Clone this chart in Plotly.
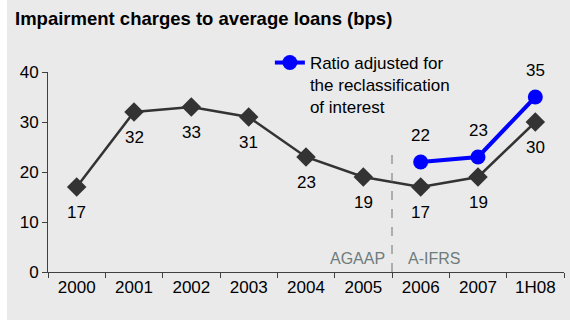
import plotly.graph_objects as go

categories = ["2000", "2001", "2002", "2003", "2004", "2005", "2006", "2007", "1H08"]
reported = [17, 32, 33, 31, 23, 19, 17, 19, 30]
adj_categories = ["2006", "2007", "1H08"]
adjusted = [22, 23, 35]
legend_name = "Ratio adjusted for<br>the reclassification<br>of interest"
title_text = "Impairment charges to average loans (bps)"

FONT = "Liberation Sans, Arial, sans-serif"
BG = "#EAEAEA"
DARK = "#333333"
BLUE = "#0000FF"
GREY_TXT = "#6E7C7C"

fig = go.Figure()
fig.add_trace(go.Scatter(
    x=categories, y=reported, mode="lines+markers",
    line=dict(color=DARK, width=2.5),
    marker=dict(symbol="diamond", size=15, color=DARK),
    showlegend=False, hoverinfo="skip"))
fig.add_trace(go.Scatter(
    x=adj_categories, y=adjusted, mode="lines+markers",
    line=dict(color=BLUE, width=4),
    marker=dict(symbol="circle", size=15, color=BLUE),
    name=legend_name, showlegend=True, hoverinfo="skip"))

annotations = []
for c, v in zip(categories, reported):
    annotations.append(dict(x=categories.index(c), y=v, text=str(v), showarrow=False,
                            yshift=-25, font=dict(family=FONT, size=17, color="#000")))
for c, v in zip(adj_categories, adjusted):
    annotations.append(dict(x=categories.index(c), y=v, text=str(v), showarrow=False,
                            yshift=27, font=dict(family=FONT, size=17, color="#000")))
annotations.append(dict(x=5.5, y=2.8, text="AGAAP", showarrow=False, xanchor="right",
                        xshift=-5, font=dict(family=FONT, size=16, color=GREY_TXT)))
annotations.append(dict(x=5.5, y=2.8, text="A-IFRS", showarrow=False, xanchor="left",
                        xshift=14, font=dict(family=FONT, size=16, color=GREY_TXT)))

fig.update_layout(
    width=570, height=320,
    margin=dict(l=48, r=6, t=72, b=48, autoexpand=False),
    paper_bgcolor=BG, plot_bgcolor=BG,
    title=dict(text="<b>" + title_text + "</b>", x=15 / 570, xanchor="left",
               xref="container", y=1 - 19 / 320, yanchor="middle",
               pad=dict(l=0, r=0, t=0, b=0),
               font=dict(family=FONT, size=18.5, color="#000")),
    xaxis=dict(type="category", categoryorder="array", categoryarray=categories,
               range=[-0.5, 8.5], showline=True, linecolor="#404040", linewidth=1,
               ticks="outside", tickson="boundaries", ticklen=5, tickcolor="#404040",
               showgrid=False, zeroline=False, automargin=False,
               tickfont=dict(family=FONT, size=17, color="#000")),
    yaxis=dict(range=[0, 40], dtick=10, showline=True, linecolor="#404040", linewidth=1,
               ticks="outside", ticklen=5, tickcolor="#404040", showgrid=False,
               zeroline=False, automargin=False,
               tickfont=dict(family=FONT, size=17, color="#000")),
    legend=dict(x=0.43, y=1.135, xanchor="left", yanchor="top", valign="top",
                bgcolor="rgba(0,0,0,0)", font=dict(family=FONT, size=17, color="#000"),
                itemwidth=30, tracegroupgap=0),
    annotations=annotations,
    shapes=[
        dict(type="line", xref="x", yref="y", x0=5.5, x1=5.5, y0=0, y1=23.5,
             line=dict(color="#707070", width=1, dash="dash")),
        dict(type="rect", xref="paper", yref="paper", x0=-0.2, x1=-41 / 516,
             y0=-1, y1=2, fillcolor="white", line=dict(width=0), layer="below"),
    ],
)

fig.write_html("out.html", config={"displayModeBar": False},
               post_script="document.body.style.margin='0px';")
